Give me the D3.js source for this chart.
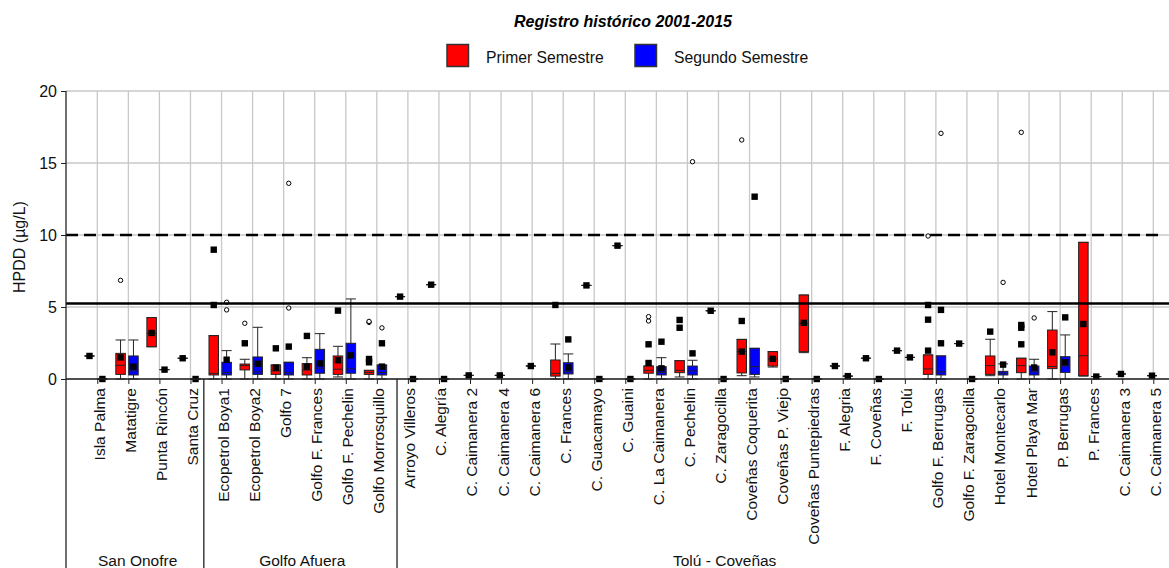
<!DOCTYPE html>
<html lang="es">
<head>
<meta charset="utf-8" />
<style>
    body { margin: 0; background: #fff; }
    svg { font-family: "Liberation Sans", Arial, sans-serif; }
    .grid line { stroke: #c8c8c8; stroke-width: 1.3px; }
    .box rect { stroke: #222; stroke-width: 1px; }
    .box line { stroke: #222; stroke-width: 1px; }
    .axis path, .axis line { stroke: #222; stroke-width: 1px; }
    .axis text { fill: #111; }
</style>
</head>
<body>
<svg width="1169" height="568"></svg>
<script src="https://cdn.jsdelivr.net/npm/d3@7"></script>
<script>

var categories = ["Isla Palma", "Matatigre", "Punta Rincón", "Santa Cruz",
    "Ecopetrol Boya1", "Ecopetrol Boya2", "Golfo 7", "Golfo F. Frances", "Golfo F. Pechelin", "Golfo Morrosquillo",
    "Arroyo Villeros", "C. Alegría", "C. Caimanera 2", "C. Caimanera 4", "C. Caimanera 6", "C. Frances",
    "C. Guacamayo", "C. Guaini", "C. La Caimanera", "C. Pechelin", "C. Zaragocilla", "Coveñas Coquerita",
    "Coveñas P. Viejo", "Coveñas Puntepiedras", "F. Alegria", "F. Coveñas", "F. Tolú", "Golfo F. Berrugas",
    "Golfo F. Zaragocilla", "Hotel Montecarlo", "Hotel Playa Mar", "P. Berrugas", "P. Frances",
    "C. Caimanera 3", "C. Caimanera 5"];

var groupNames = ["San Onofre", "Golfo Afuera", "Tolú - Coveñas"];
var groupSizes = [4, 6, 25];

var seriesNames = ["Primer Semestre", "Segundo Semestre"];

// b = [min, q1, median, q3, max]; sq = filled squares; ci = open circles; a plain number = single value
var primer = [
    1.6,
    {b: [0, 0.32, 0.95, 1.78, 2.71], sq: [1.5], ci: [6.85]},
    {b: [2.24, 2.24, 3.17, 4.26, 4.26], sq: [3.2]},
    1.44,
    {b: [0, 0.28, 0.39, 3.01, 3.01], sq: [8.98, 5.14]},
    {b: [0, 0.63, 0.93, 1.04, 1.37], sq: [2.48], ci: [3.87]},
    {b: [0, 0.32, 0.56, 0.97, 0.97], sq: [0.79, 2.13]},
    {b: [0, 0.28, 0.62, 1.07, 1.48], sq: [0.86, 2.99]},
    {b: [0.14, 0.32, 0.68, 1.6, 2.27], sq: [1.3, 4.75]},
    {b: [0, 0.32, 0.46, 0.6, 0.6], sq: [1.16, 1.39], ci: [3.93, 4.0]},
    5.72,
    6.55,
    0.25,
    0.25,
    0.9,
    {b: [0, 0.2, 0.39, 1.32, 2.43], sq: [5.14]},
    6.5,
    9.26,
    {b: [0, 0.4, 0.6, 0.9, 0.9], sq: [1.11, 2.41], ci: [4.03, 4.33]},
    {b: [0.14, 0.44, 0.6, 1.27, 1.27], sq: [3.56, 4.1]},
    4.74,
    {b: [0.23, 0.42, 1.9, 2.75, 2.75], sq: [1.9, 4.03], ci: [16.6]},
    {b: [0.83, 0.9, 1.4, 1.9, 1.9], sq: [1.4]},
    {b: [1.83, 1.9, 3.86, 5.83, 5.83], sq: [3.9]},
    0.9,
    1.44,
    1.97,
    {b: [0, 0.32, 0.7, 1.67, 1.67], sq: [1.97, 4.12, 5.14], ci: [9.93]},
    2.46,
    {b: [0.23, 0.32, 0.93, 1.6, 2.76], sq: [3.29]},
    {b: [0, 0.44, 0.93, 1.44, 1.44], sq: [2.41, 3.56, 3.75], ci: [17.13]},
    {b: [0, 0.72, 0.87, 3.4, 4.68], sq: [1.85]},
    {b: [0.2, 0.23, 1.62, 9.49, 9.49], sq: [3.82]},
    0.35,
    0.23
];

var segundo = [
    0,
    {b: [0, 0.28, 0.56, 1.6, 2.71], sq: [0.86]},
    0.65,
    0,
    {b: [0, 0.28, 0.46, 1.16, 1.97], sq: [1.34], ci: [5.33, 4.8]},
    {b: [0, 0.32, 0.5, 1.53, 3.59], sq: [1.06]},
    {b: [0, 0.28, 0.44, 1.16, 1.16], sq: [2.25], ci: [4.93, 13.59]},
    {b: [0, 0.4, 0.75, 2.06, 3.15], sq: [1.08]},
    {b: [0, 0.4, 0.7, 2.48, 5.56], sq: [1.64]},
    {b: [0, 0.28, 0.45, 0.97, 0.97], sq: [0.86, 2.48], ci: [3.55]},
    0,
    0,
    null,
    null,
    null,
    {b: [0, 0.35, 0.5, 1.13, 1.74], sq: [0.8, 2.75]},
    0,
    0,
    {b: [0, 0.28, 0.46, 0.86, 1.48], sq: [0.74, 2.59]},
    {b: [0, 0.28, 0.56, 0.9, 1.3], sq: [1.78], ci: [15.09]},
    0,
    {b: [0.14, 0.32, 0.86, 2.13, 2.13], sq: [12.66]},
    0,
    0,
    0.2,
    0,
    1.5,
    {b: [0, 0.28, 0.5, 1.6, 1.6], sq: [2.48, 4.8], ci: [17.06]},
    0,
    {b: [0, 0.28, 0.4, 0.53, 1.05], sq: [1.0], ci: [6.71]},
    {b: [0, 0.28, 0.5, 0.9, 1.37], sq: [0.8], ci: [4.24]},
    {b: [0, 0.46, 0.9, 1.55, 3.06], sq: [1.16, 4.28]},
    0.17,
    null,
    null
];

var yTicks = [0, 5, 10, 15, 20];
var limitSolid = 5.25,
    limitDashed = 10;

var svg = d3.select("svg"),
    plotLeft = 66,
    plotRight = 1169,
    plotTop = 91,
    plotBottom = 379,
    boxW = 9.5,
    capW = 10,
    colors = ["#ff0000", "#0000ff"],
    offsets = [-7.8, 5.1];

var x = d3.scalePoint().domain(categories).range([97.3, 1153.3]);
var y = d3.scaleLinear().domain([0, 20]).range([plotBottom, plotTop]);
var step = x.step();

// grid
var grid = svg.append("g").attr("class", "grid");
grid.selectAll(".v").data(categories).enter().append("line")
    .attr("x1", function(d) { return x(d); })
    .attr("x2", function(d) { return x(d); })
    .attr("y1", y(0)).attr("y2", y(20));
grid.selectAll(".h").data(yTicks).enter().append("line")
    .attr("x1", plotLeft).attr("x2", plotRight)
    .attr("y1", function(d) { return y(d); })
    .attr("y2", function(d) { return y(d); });

// build one record per series per station
var records = [];
categories.forEach(function(c, i) {
    var both = primer[i] != null && segundo[i] != null;
    [primer[i], segundo[i]].forEach(function(d, s) {
        if (d == null) return;
        var r = typeof d === "number" ? {b: [d, d, d, d, d], sq: [d], ci: []} : d;
        records.push({
            cx: x(c) + (both ? offsets[s] : -1.3),
            color: colors[s],
            b: r.b,
            sq: r.sq || [],
            ci: r.ci || []
        });
    });
});

var boxes = svg.selectAll(".box").data(records).enter().append("g").attr("class", "box");

boxes.append("line")
    .attr("x1", function(d) { return d.cx; }).attr("x2", function(d) { return d.cx; })
    .attr("y1", function(d) { return y(d.b[0]); }).attr("y2", function(d) { return y(d.b[4]); });
boxes.selectAll(".cap").data(function(d) { return [d.b[0], d.b[4]].map(function(v) { return {cx: d.cx, v: v}; }); })
    .enter().append("line")
    .attr("x1", function(d) { return d.cx - capW / 2; }).attr("x2", function(d) { return d.cx + capW / 2; })
    .attr("y1", function(d) { return y(d.v); }).attr("y2", function(d) { return y(d.v); });
boxes.append("rect")
    .attr("x", function(d) { return d.cx - boxW / 2; })
    .attr("width", boxW)
    .attr("y", function(d) { return y(d.b[3]); })
    .attr("height", function(d) { return y(d.b[1]) - y(d.b[3]); })
    .attr("fill", function(d) { return d.color; });
boxes.append("line")
    .attr("x1", function(d) { return d.cx - boxW / 2; }).attr("x2", function(d) { return d.cx + boxW / 2; })
    .attr("y1", function(d) { return y(d.b[2]); }).attr("y2", function(d) { return y(d.b[2]); });

// reference lines
svg.append("line").attr("x1", plotLeft).attr("x2", plotRight)
    .attr("y1", y(limitSolid)).attr("y2", y(limitSolid))
    .attr("stroke", "#000").attr("stroke-width", 2.5);
svg.append("line").attr("x1", plotLeft).attr("x2", 1162)
    .attr("y1", y(limitDashed)).attr("y2", y(limitDashed))
    .attr("stroke", "#000").attr("stroke-width", 2.5).attr("stroke-dasharray", "12,6");

// points
boxes.selectAll(".sq").data(function(d) { return d.sq.map(function(v) { return {cx: d.cx, v: v}; }); })
    .enter().append("rect")
    .attr("x", function(d) { return d.cx - 3.2; }).attr("y", function(d) { return y(d.v) - 3.2; })
    .attr("width", 6.4).attr("height", 6.4).attr("fill", "#000").style("stroke", "none");
boxes.selectAll(".ci").data(function(d) { return d.ci.map(function(v) { return {cx: d.cx, v: v}; }); })
    .enter().append("circle")
    .attr("cx", function(d) { return d.cx; }).attr("cy", function(d) { return y(d.v); })
    .attr("r", 2.2).attr("fill", "#fff").attr("stroke", "#000").attr("stroke-width", 1);

// axes
svg.append("g").attr("class", "axis")
    .attr("transform", "translate(" + plotLeft + ",0)")
    .call(d3.axisLeft(y).tickValues(yTicks).tickSize(5).tickSizeOuter(0).tickPadding(4))
    .call(function(g) { g.select(".domain").remove(); })
    .selectAll("text").style("font-size", "16px");

var xa = svg.append("g").attr("class", "axis")
    .attr("transform", "translate(0," + plotBottom + ")")
    .call(d3.axisBottom(x).tickSize(5).tickSizeOuter(0))
    .call(function(g) { g.select(".domain").remove(); });
xa.selectAll("text")
    .style("font-size", "15.5px")
    .attr("transform", "rotate(-90)")
    .attr("text-anchor", "end")
    .attr("x", -9).attr("y", 0).attr("dy", "0.45em");

svg.append("line").attr("x1", plotLeft).attr("x2", plotRight).attr("y1", plotBottom).attr("y2", plotBottom)
    .attr("stroke", "#222").attr("stroke-width", 1.3);
svg.append("line").attr("x1", plotLeft).attr("x2", plotLeft).attr("y1", plotTop).attr("y2", 568)
    .attr("stroke", "#222").attr("stroke-width", 1.3);

// groups
var sepIdx = [3.43, 9.65],
    labelIdx = [1.3, 6.6, 20.2];
var toPx = function(i) { return x.range()[0] + step * i; };
sepIdx.forEach(function(i) {
    svg.append("line").attr("x1", toPx(i)).attr("x2", toPx(i))
        .attr("y1", plotBottom).attr("y2", 568).attr("stroke", "#222").attr("stroke-width", 1.3);
});
svg.selectAll(".glabel").data(groupNames).enter().append("text")
    .attr("x", function(d, i) { return toPx(labelIdx[i]); })
    .attr("y", 566)
    .attr("text-anchor", "middle")
    .style("font-size", "15.5px")
    .attr("fill", "#111")
    .text(function(d) { return d; });

// y title
svg.append("text")
    .attr("transform", "translate(25,247) rotate(-90)")
    .attr("text-anchor", "middle")
    .style("font-size", "16px")
    .attr("fill", "#111")
    .text("HPDD (µg/L)");

// title
svg.append("text")
    .attr("x", 623).attr("y", 27)
    .attr("text-anchor", "middle")
    .style("font-size", "16px").style("font-weight", "bold").style("font-style", "italic")
    .text("Registro histórico 2001-2015");

// legend
var legX = [447, 635];
seriesNames.forEach(function(name, i) {
    svg.append("rect").attr("x", legX[i]).attr("y", 44.5).attr("width", 21.5).attr("height", 22)
        .attr("fill", colors[i]).attr("stroke", "#333").attr("stroke-width", 1.5);
    svg.append("text").attr("x", legX[i] + 39).attr("y", 63)
        .style("font-size", "15.7px").attr("fill", "#111").text(name);
});

</script>
</body>
</html>
